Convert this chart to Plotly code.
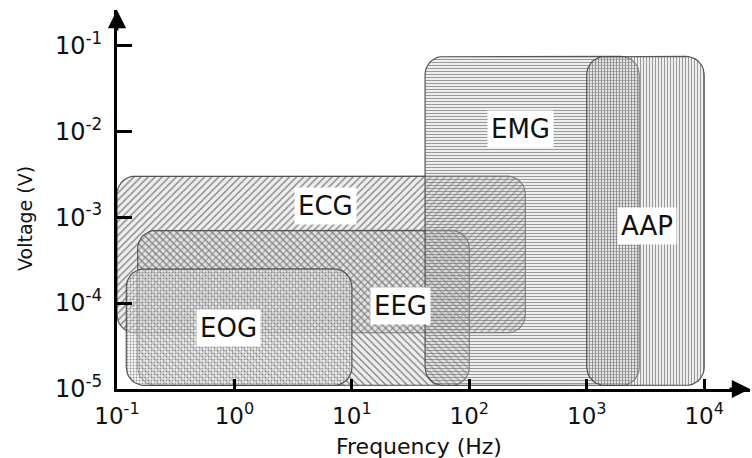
import numpy as np
import plotly.graph_objects as go

# ---- data ----
signals = ["ECG", "EEG", "EMG", "AAP", "EOG"]
freq_low = [0.1, 0.15, 42, 1000, 0.12]          # Hz
freq_high = [300, 100, 2800, 10000, 10]         # Hz
volt_low = [4.5e-5, 1.1e-5, 1.1e-5, 1.1e-5, 1.1e-5]   # V
volt_high = [3.0e-3, 7.0e-4, 7.4e-2, 7.4e-2, 2.5e-4]  # V
label_freq = [6.0, 26, 275, 3240, 0.885]
label_volt = [1.35e-3, 9.3e-5, 1.07e-2, 7.85e-4, 5.1e-5]

x_tickvals = [0.1, 1, 10, 100, 1000, 10000]
x_ticktext = ["10<sup>-1</sup>", "10<sup>0</sup>", "10<sup>1</sup>",
              "10<sup>2</sup>", "10<sup>3</sup>", "10<sup>4</sup>"]
y_tickvals = [1e-5, 1e-4, 1e-3, 1e-2, 1e-1]
y_ticktext = ["10<sup>-5</sup>", "10<sup>-4</sup>", "10<sup>-3</sup>",
              "10<sup>-2</sup>", "10<sup>-1</sup>"]

# ---- styles ----
patterns = {"ECG": "/", "EEG": "\\", "EMG": "-", "AAP": "|", "EOG": "."}
pat_size = {"ECG": 5, "EEG": 5, "EMG": 3, "AAP": 3, "EOG": 3}
bg = {"ECG": "rgba(210,210,210,0.38)", "EEG": "rgba(210,210,210,0.38)",
      "EMG": "rgba(210,210,210,0.38)", "AAP": "rgba(210,210,210,0.38)",
      "EOG": "rgba(240,240,240,0.55)"}

W, H = 752, 458
ML, MR, MT, MB = 117, 2, 10, 69
XR = [-1, 4.39]
YR = [-5.0, -0.59]
pxx = (W - ML - MR) / (XR[1] - XR[0])
pxy = (H - MT - MB) / (YR[1] - YR[0])
FONT = "DejaVu Sans"


def rounded_rect(x0, x1, y0, y1, r_px=18, n=10):
    lx0, lx1, ly0, ly1 = np.log10([x0, x1, y0, y1])
    rx, ry = r_px / pxx, r_px / pxy
    xs, ys = [], []
    corners = [(lx1 - rx, ly1 - ry, 0), (lx0 + rx, ly1 - ry, 90),
               (lx0 + rx, ly0 + ry, 180), (lx1 - rx, ly0 + ry, 270)]
    for cx, cy, a0 in corners:
        t = np.radians(np.linspace(a0, a0 + 90, n))
        xs.extend(cx + rx * np.cos(t))
        ys.extend(cy + ry * np.sin(t))
    xs.append(xs[0]); ys.append(ys[0])
    return 10 ** np.array(xs), 10 ** np.array(ys)


fig = go.Figure()
for i, name in enumerate(signals):
    xs, ys = rounded_rect(freq_low[i], freq_high[i], volt_low[i], volt_high[i])
    fig.add_trace(go.Scatter(
        x=xs, y=ys, mode="lines", fill="toself",
        line=dict(color="rgba(70,70,70,0.9)", width=1.2),
        fillcolor=bg[name],
        fillpattern=dict(shape=patterns[name], size=pat_size[name], solidity=0.3,
                         fgcolor="#777777", fgopacity=0.8, bgcolor=bg[name]),
        hoverinfo="skip", showlegend=False, name=name))

annotations = []
for i, name in enumerate(signals):
    annotations.append(dict(
        x=np.log10(label_freq[i]), y=np.log10(label_volt[i]), xref="x", yref="y",
        text=name, showarrow=False, bgcolor="white", borderpad=3,
        font=dict(family=FONT, size=26, color="#111")))

# axis arrows
annotations.append(dict(x=1.0, y=0, xref="paper", yref="paper", ax=-22, ay=0,
                        axref="pixel", ayref="pixel", text="", showarrow=True,
                        arrowhead=2, arrowsize=1.3, arrowwidth=2.8, arrowcolor="black"))
annotations.append(dict(x=0, y=1.0, xref="paper", yref="paper", ax=0, ay=22,
                        axref="pixel", ayref="pixel", text="", showarrow=True,
                        arrowhead=2, arrowsize=1.3, arrowwidth=2.8, arrowcolor="black"))
# axis titles
annotations.append(dict(x=(419 - ML) / (W - ML - MR), y=(389 - 446) / (H - MT - MB),
                        xref="paper", yref="paper", text="Frequency (Hz)",
                        showarrow=False, xanchor="center", yanchor="middle",
                        font=dict(family=FONT, size=22, color="#111")))
annotations.append(dict(x=(25 - ML) / (W - ML - MR), y=(389 - 219) / (H - MT - MB),
                        xref="paper", yref="paper", text="Voltage (V)", textangle=-90,
                        showarrow=False, xanchor="center", yanchor="middle",
                        font=dict(family=FONT, size=19, color="#111")))

fig.update_layout(
    width=W, height=H, margin=dict(l=ML, r=MR, t=MT, b=MB),
    paper_bgcolor="white", plot_bgcolor="white",
    annotations=annotations,
    xaxis=dict(type="log", range=XR, showgrid=False, zeroline=False,
               showline=True, linecolor="black", linewidth=3,
               ticks="inside", ticklen=10, tickwidth=2.5, tickcolor="black",
               tickvals=x_tickvals, ticktext=x_ticktext, ticklabelstandoff=4,
               tickfont=dict(family=FONT, size=23, color="#111")),
    yaxis=dict(type="log", range=YR, showgrid=False, zeroline=False,
               showline=True, linecolor="black", linewidth=3,
               ticks="inside", ticklen=15, tickwidth=2.5, tickcolor="black",
               tickvals=y_tickvals, ticktext=y_ticktext, ticklabelstandoff=7,
               tickfont=dict(family=FONT, size=24, color="#111")),
)

fig.write_html("out.html", config={"displayModeBar": False},
               post_script="document.body.style.margin='0';")
